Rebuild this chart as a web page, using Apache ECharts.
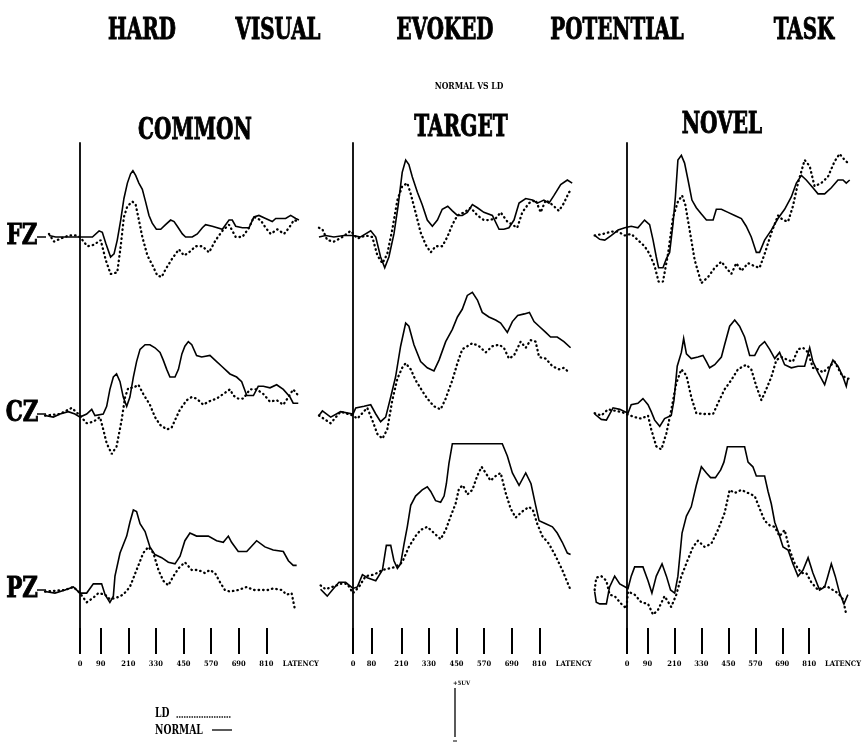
<!DOCTYPE html>
<html><head><meta charset="utf-8">
<script src="https://cdn.jsdelivr.net/npm/echarts@6/dist/echarts.min.js"></script>
<style>html,body{margin:0;padding:0;background:#fff}#c{width:864px;height:745px}</style>
</head><body><div id="c"></div>
<script>
// ---------- categories & labels ----------
const titleWords = ['HARD', 'VISUAL', 'EVOKED', 'POTENTIAL', 'TASK'];
const subtitle = 'NORMAL VS LD';
const columns = ['COMMON', 'TARGET', 'NOVEL'];
const rows = ['FZ', 'CZ', 'PZ'];
const groups = ['NORMAL', 'LD'];
const ticksCommon = [0, 90, 210, 330, 450, 570, 690, 810];
const ticksTarget = [0, 80, 210, 330, 450, 570, 690, 810];
const ticksNovel = [0, 90, 210, 330, 450, 570, 690, 810];
const axisName = 'LATENCY';
const scaleLabel = '+5UV';

// ---------- data: [latency ms, amplitude (plot units, positive up)] ----------
const commonFzNormal = [[-135,0.1],[-106,0],[-48,0],[0,0],[54,0],[83,0.4],[97,0.3],[112,-0.4],[133,-1.3],[148,-1.1],[162,-0.2],[177,1.1],[191,2.5],[206,3.5],[220,4.1],[230,4.3],[242,4.0],[256,3.5],[271,3.1],[285,2.3],[300,1.4],[314,0.9],[332,0.5],[351,0.5],[372,0.8],[394,1.1],[409,1.0],[423,0.7],[445,0.2],[459,0],[488,0],[510,0.2],[532,0.6],[546,0.8],[575,0.7],[619,0.5],[648,1.1],[662,1.1],[677,0.7],[706,0.6],[735,0.6],[756,1.3],[778,1.4],[807,1.2],[836,1.0],[851,1.2],[894,1.2],[916,1.4],[938,1.2],[952,1.1]];
const commonFzLD = [[-135,0.2],[-113,-0.3],[-84,-0.1],[-48,0.1],[-19,0.1],[0,0],[32,-0.6],[61,-0.5],[90,-0.2],[112,-1.5],[133,-2.4],[162,-2.3],[177,-0.6],[191,1.3],[206,2.0],[228,2.3],[242,2.1],[256,1.1],[271,0],[293,-1.2],[314,-1.8],[336,-2.5],[355,-2.6],[372,-2.1],[401,-1.4],[430,-0.8],[452,-1.2],[474,-1.0],[503,-0.6],[532,-0.6],[561,-1.0],[590,-0.2],[619,0.4],[648,0.8],[677,0],[706,0],[735,0.6],[756,1.3],[785,1.1],[807,0.6],[829,0.2],[858,0.5],[887,0.2],[909,0.6],[930,1.1],[952,1.0]];
const commonCzNormal = [[-152,-0.1],[-116,-0.2],[-87,0],[-51,0.15],[-22,0],[0,-0.2],[29,0],[51,0.3],[65,-0.1],[101,0],[116,0.5],[130,1.6],[145,2.4],[159,2.6],[174,2.1],[188,1.1],[203,0.5],[217,1.1],[232,2.4],[246,3.4],[261,4.2],[283,4.5],[304,4.5],[326,4.3],[348,4.0],[362,3.5],[377,2.9],[391,2.4],[413,2.4],[428,2.9],[443,3.9],[456,4.4],[471,4.7],[486,4.5],[507,3.8],[529,3.7],[565,3.8],[587,3.5],[616,3.1],[652,2.6],[681,2.4],[703,2.1],[725,1.2],[754,1.2],[775,1.8],[797,1.8],[826,1.7],[855,1.9],[884,1.6],[913,1.1],[927,0.7],[949,0.7]];
const commonCzLD = [[-152,-0.1],[-87,0],[-36,0.4],[0,-0.1],[29,-0.6],[58,-0.5],[87,-0.2],[101,-1.0],[116,-1.9],[138,-2.6],[159,-2.1],[181,-0.4],[196,1.1],[210,1.7],[232,1.7],[254,1.9],[275,1.3],[304,0.6],[326,-0.2],[348,-0.7],[377,-1.0],[398,-0.9],[413,-0.4],[435,0.3],[464,0.9],[486,1.1],[507,1.0],[536,0.6],[558,0.8],[594,1.0],[623,1.3],[652,1.6],[667,1.2],[688,1.0],[710,1.0],[739,1.6],[768,1.6],[797,1.3],[826,0.8],[855,0.9],[884,0.6],[906,1.1],[927,1.6],[949,1.2]];
const commonPzNormal = [[-152,-0.1],[-109,-0.2],[-65,0],[-29,0.2],[0,-0.2],[29,-0.2],[58,0.4],[94,0.4],[109,-0.3],[130,-0.8],[145,-0.4],[152,0.9],[174,2.4],[203,3.5],[217,4.4],[232,5.2],[246,5.1],[261,4.3],[283,3.8],[304,2.8],[326,2.3],[355,2.1],[384,1.8],[413,1.7],[435,2.2],[456,3.2],[478,3.7],[507,3.5],[558,3.5],[594,3.2],[623,3.1],[645,3.5],[659,3.1],[688,2.5],[725,2.5],[768,3.2],[804,2.8],[840,2.6],[884,2.5],[906,1.9],[927,1.6],[942,1.6]];
const commonPzLD = [[-152,-0.1],[-65,0],[-29,0.2],[0,-0.2],[29,-0.8],[58,-0.5],[80,-0.2],[109,-0.3],[130,-0.6],[159,-0.5],[188,-0.3],[217,0.2],[246,1.3],[275,2.4],[297,2.8],[319,2.4],[341,1.3],[362,0.6],[384,0.3],[406,0.9],[428,1.4],[456,1.8],[486,1.3],[514,1.3],[543,1.1],[565,1.3],[587,1.1],[609,0.5],[630,0],[652,-0.1],[688,0],[725,0.2],[754,0],[782,0],[819,0],[840,0.1],[877,0],[898,-0.3],[920,-0.2],[935,-1.3]];

const targetFzNormal = [[-148,0],[-119,0.1],[-83,0],[-39,0.1],[0,0.1],[33,0],[77,0.4],[99,0],[120,-1.3],[138,-2.0],[156,-1.3],[178,0.2],[196,2.0],[214,4.2],[229,5.0],[243,4.7],[258,3.9],[280,2.9],[301,2.1],[323,1.1],[345,0.7],[367,1.1],[388,1.8],[412,2.0],[432,1.7],[454,1.4],[475,1.4],[497,1.6],[519,2.1],[541,1.9],[569,1.6],[606,1.4],[635,0.5],[656,0.5],[678,0.6],[700,1.1],[722,2.2],[751,2.5],[780,2.4],[801,2.2],[830,2.4],[852,2.2],[874,2.7],[903,3.4],[932,3.7],[953,3.5]];
const targetFzLD = [[-148,0.6],[-133,0.5],[-112,-0.2],[-83,-0.3],[-46,0],[-10,0.4],[19,-0.1],[55,0.1],[84,0],[106,-1.2],[128,-1.7],[149,-1.1],[171,0.5],[193,2.4],[214,3.3],[236,3.5],[251,2.8],[272,1.6],[294,0.3],[316,-0.5],[338,-1.0],[359,-0.6],[388,-0.6],[410,0],[432,0.8],[454,1.4],[483,1.6],[512,1.9],[541,1.4],[569,1.1],[591,1.1],[620,1.2],[642,1.6],[671,1.0],[693,0.8],[714,0.6],[736,1.6],[765,2.2],[794,2.4],[816,1.6],[838,2.4],[866,2.1],[895,1.7],[917,2.2],[939,2.9],[953,3.1]];
const targetCzNormal = [[-148,-0.1],[-133,0.2],[-97,-0.2],[-54,0.15],[0,0],[12,0.4],[48,0.5],[77,0.6],[99,0],[120,-0.5],[142,-0.2],[164,1.1],[185,2.4],[207,4.4],[229,5.9],[243,5.7],[265,4.5],[294,3.4],[323,3.0],[352,2.8],[374,3.5],[403,4.7],[432,5.5],[454,6.3],[475,6.8],[497,7.7],[519,7.9],[541,7.4],[562,6.6],[591,6.3],[620,6.1],[642,5.9],[671,5.3],[693,6.0],[716,6.4],[745,6.5],[767,6.6],[787,6.0],[809,5.7],[838,5.3],[859,5.0],[888,5.0],[917,4.7],[946,4.3]];
const targetCzLD = [[-148,-0.1],[-97,-0.6],[-54,0.15],[0,-0.1],[19,-0.3],[62,0.4],[84,-0.4],[106,-1.3],[128,-1.6],[149,-1.0],[171,0.9],[193,2.3],[214,3.0],[229,3.3],[251,2.9],[272,2.2],[301,1.5],[323,1.0],[352,0.5],[381,0.3],[403,1.0],[432,2.2],[454,3.3],[475,4.2],[497,4.4],[519,4.6],[548,4.4],[577,4.0],[606,4.4],[635,4.5],[656,4.3],[678,3.6],[700,3.8],[729,4.7],[751,4.3],[772,4.8],[794,4.7],[809,3.7],[838,3.6],[867,3.1],[896,2.9],[917,3.0],[939,2.7]];
const targetPzNormal = [[-141,0.05],[-112,-0.4],[-90,0],[-61,0.5],[-32,0.5],[0,0.1],[19,0.2],[41,1.0],[62,0.8],[99,0.6],[128,1.3],[145,2.9],[164,2.9],[178,1.9],[193,1.4],[207,1.7],[222,3.0],[236,4.1],[251,5.5],[272,6.1],[301,6.5],[323,6.7],[338,6.4],[359,5.8],[381,5.7],[396,6.1],[406,6.9],[417,8.2],[432,9.5],[504,9.5],[649,9.5],[671,8.7],[693,7.6],[722,6.8],[751,7.6],[774,6.9],[794,5.5],[809,4.5],[838,4.3],[867,4.1],[888,3.7],[910,3.1],[932,2.4],[946,2.3]];
const targetPzLD = [[-141,0.3],[-119,0.05],[-90,0.2],[-54,0.4],[-25,0.4],[0,-0.2],[26,0.2],[55,0.9],[91,1.0],[128,1.3],[157,1.4],[185,1.5],[214,1.8],[243,2.8],[272,3.5],[294,3.9],[323,4.1],[352,3.7],[381,3.3],[403,3.9],[425,4.8],[446,5.6],[461,6.6],[478,6.8],[497,6.2],[519,6.5],[540,7.4],[559,8.0],[577,7.6],[598,7.1],[620,7.4],[642,7.6],[664,6.3],[685,5.3],[707,4.7],[736,5.1],[765,5.4],[782,5.2],[801,4.3],[823,3.5],[852,3.0],[881,2.2],[910,1.3],[932,0.5],[946,0]];

const novelFzNormal = [[-145,0.1],[-123,-0.15],[-101,-0.2],[-72,0.1],[-43,0.45],[-14,0.6],[14,0.7],[43,0.6],[72,1.1],[94,0.8],[109,-0.2],[123,-1.3],[133,-2.0],[152,-2.0],[167,-1.4],[181,-1.0],[196,0.9],[206,2.6],[217,5.0],[232,5.3],[246,4.8],[261,3.7],[278,2.4],[297,1.9],[319,1.5],[341,1.1],[370,1.1],[384,1.8],[406,1.8],[435,1.6],[464,1.4],[493,1.2],[514,0.7],[536,0],[558,-1.0],[572,-1.0],[594,-0.2],[623,0.45],[652,1.2],[681,1.8],[710,2.6],[732,3.5],[754,4.0],[775,3.7],[804,3.2],[826,2.8],[855,2.8],[884,3.2],[913,3.7],[935,3.7],[949,3.5],[964,3.7]];
const novelFzLD = [[-145,0.1],[-109,0.2],[-72,0.35],[-43,0.35],[-14,0.1],[14,0.2],[43,-0.2],[72,-0.6],[94,-1.1],[116,-1.9],[133,-2.9],[152,-2.9],[174,-1.1],[196,1.3],[217,2.3],[235,2.7],[249,2.1],[268,0.45],[290,-1.5],[319,-3.0],[348,-2.6],[377,-2.0],[406,-1.6],[427,-2.0],[449,-2.4],[471,-1.7],[493,-2.2],[522,-1.7],[551,-1.9],[572,-2.0],[594,-1.1],[623,0.25],[652,1.4],[674,1.1],[696,1.0],[717,2.0],[739,3.5],[768,5.0],[790,4.6],[811,3.3],[840,3.5],[869,3.9],[898,4.9],[920,5.4],[942,5.0],[964,4.7]];
const novelCzNormal = [[-145,0],[-116,-0.35],[-94,-0.4],[-65,0.4],[-36,0.3],[0,0.05],[14,0.6],[43,0.7],[65,1.0],[87,0.6],[101,0.15],[116,-0.4],[138,-0.8],[159,-0.3],[188,-0.1],[200,0.9],[214,3.1],[232,4.0],[242,4.9],[254,3.9],[275,3.6],[304,3.7],[326,3.8],[341,3.4],[355,3.0],[377,3.2],[406,3.7],[420,4.5],[442,5.7],[464,6.1],[485,5.7],[507,5.0],[529,3.8],[551,3.8],[572,4.4],[594,4.7],[616,4.2],[638,3.6],[659,4.0],[681,3.2],[710,3.0],[739,3.1],[768,3.1],[790,4.3],[804,3.4],[826,2.7],[855,1.9],[877,3.0],[891,3.5],[913,3.1],[935,2.4],[949,1.8],[956,2.3]];
const novelCzLD = [[-145,0.05],[-116,-0.1],[-87,0.3],[-51,0.2],[-22,0.1],[0,-0.05],[29,-0.2],[58,-0.3],[87,-0.1],[101,-1.0],[123,-2.1],[145,-2.3],[167,-1.25],[188,0.25],[210,2.0],[232,2.9],[254,2.5],[275,1.1],[297,0.05],[333,0],[370,0],[391,0.7],[420,1.6],[449,2.2],[478,2.9],[514,3.2],[536,2.9],[558,1.8],[580,0.9],[601,1.6],[623,2.4],[645,3.5],[667,3.7],[696,3.5],[717,3.4],[739,4.2],[761,4.3],[783,4.0],[804,3.0],[826,2.9],[848,2.7],[877,3.1],[898,3.4],[927,2.6],[949,2.3],[964,2.3]];
const novelPzNormal = [[-145,-0.1],[-138,-0.8],[-123,-0.9],[-94,-0.9],[-80,0.2],[-58,0.9],[-36,0.4],[0,0.1],[14,0.9],[29,1.5],[65,1.5],[87,0.6],[104,-0.2],[123,0.9],[148,1.7],[167,0.9],[185,0],[203,-0.2],[217,0.9],[235,3.7],[254,4.8],[275,5.4],[297,6.8],[319,8.0],[341,7.6],[359,7.3],[380,7.3],[403,7.8],[417,8.3],[432,9.3],[507,9.3],[522,8.3],[543,8.0],[558,7.4],[594,7.4],[609,6.4],[623,5.6],[638,4.4],[655,3.7],[674,2.8],[696,2.6],[717,1.7],[739,0.9],[761,1.3],[783,2.1],[804,1.1],[833,0],[855,0.2],[867,0.8],[884,1.7],[901,0.9],[920,-0.2],[939,-0.9],[956,-0.3]];
const novelPzLD = [[-145,0],[-138,0.8],[-116,0.9],[-94,0.6],[-80,-0.3],[-58,-0.4],[-29,-0.9],[-7,-1.2],[0,-0.1],[29,-0.3],[58,-0.8],[87,-0.9],[109,-1.6],[130,-1.3],[159,-0.4],[188,-1.1],[210,-0.3],[232,0.9],[261,2.0],[283,2.8],[304,3.2],[333,2.8],[362,3.0],[391,3.9],[420,5.0],[442,6.5],[464,6.3],[493,6.5],[522,6.3],[551,6.1],[572,5.3],[594,4.5],[616,4.2],[638,4.1],[659,3.5],[681,3.9],[703,2.6],[725,1.7],[754,1.1],[775,1.1],[797,0.5],[826,0],[848,0.2],[869,0.2],[891,0],[913,-0.2],[935,-0.6],[949,-1.6]];

// ---------- layout (positions / styles) ----------
const PX_MS = 0.23, PX_UNIT = 15.4;
const T_MIN = -160, T_MAX = 1000, V_MIN = -10, V_MAX = 10;
const colZero = [80, 353, 628];
const rowBase = [237, 414, 590];
const axisTop = 143, axisBottom = 628;
const LATENCY_POS = 960;
const FONT = "'DejaVu Serif Condensed', 'DejaVu Serif', serif";

const panelData = [
  [[commonFzNormal, commonFzLD], [commonCzNormal, commonCzLD], [commonPzNormal, commonPzLD]],
  [[targetFzNormal, targetFzLD], [targetCzNormal, targetCzLD], [targetPzNormal, targetPzLD]],
  [[novelFzNormal, novelFzLD], [novelCzNormal, novelCzLD], [novelPzNormal, novelPzLD]]
];
const colTicks = [ticksCommon, ticksTarget, ticksNovel];

const grid = [], xAxis = [], yAxis = [], series = [];
const gLeft = c => colZero[c] + T_MIN * PX_MS;
const gWidth = (T_MAX - T_MIN) * PX_MS;

for (let c = 0; c < 3; c++) {
  for (let r = 0; r < 3; r++) {
    const idx = grid.length;
    grid.push({ left: gLeft(c), width: gWidth, top: rowBase[r] - V_MAX * PX_UNIT, height: (V_MAX - V_MIN) * PX_UNIT });
    xAxis.push({ gridIndex: idx, type: 'value', min: T_MIN, max: T_MAX, show: false });
    yAxis.push({ gridIndex: idx, type: 'value', min: V_MIN, max: V_MAX, show: false });
    const [normal, ld] = panelData[c][r];
    series.push({
      name: groups[0], type: 'line', xAxisIndex: idx, yAxisIndex: idx, data: normal,
      symbol: 'none', silent: true, z: 3,
      lineStyle: { color: '#000', width: 1.6, type: 'solid', join: 'miter' }
    });
    series.push({
      name: groups[1], type: 'line', xAxisIndex: idx, yAxisIndex: idx, data: ld,
      symbol: 'none', silent: true, z: 2,
      lineStyle: { color: '#000', width: 2.3, type: [0.5, 4], cap: 'round' }
    });
  }
}
// axis grids: one per column (vertical zero line + latency ticks)
for (let c = 0; c < 3; c++) {
  const idx = grid.length;
  grid.push({ left: gLeft(c), width: gWidth, top: axisTop, height: axisBottom - axisTop });
  const ticks = colTicks[c];
  xAxis.push({
    gridIndex: idx, type: 'value', min: T_MIN, max: T_MAX, position: 'bottom',
    axisLine: { show: false, onZero: false },
    splitLine: { show: false },
    axisTick: { show: true, customValues: ticks, length: 26, lineStyle: { color: '#000', width: 2 } },
    axisLabel: {
      show: true, customValues: ticks.concat([LATENCY_POS]), margin: 32,
      formatter: v => (v === LATENCY_POS ? axisName : String(v)),
      color: '#000', fontSize: 7.5, fontWeight: 'bold', fontFamily: FONT
    }
  });
  yAxis.push({
    gridIndex: idx, type: 'value', min: 0, max: 1,
    axisLine: { show: true, onZero: true, lineStyle: { color: '#000', width: 1.8 } },
    axisTick: { show: false }, axisLabel: { show: false }, splitLine: { show: false }
  });
}

// ---------- text & annotations ----------
const graphic = [];
const bigText = (text, x, y, size, sx) => ({
  type: 'text', x, y, scaleX: sx,
  style: { text, fill: '#000', stroke: '#000', lineWidth: 0.9, font: `bold ${size}px ${FONT}`, align: 'center', verticalAlign: 'middle' }
});
const titleX = [142, 278, 445, 617, 804];
titleWords.forEach((w, i) => graphic.push(bigText(w, titleX[i], 31, 29, 0.76)));
graphic.push({ type: 'text', x: 469, y: 86, scaleX: 0.85,
  style: { text: subtitle, fill: '#000', font: `bold 10px ${FONT}`, align: 'center', verticalAlign: 'middle' } });
const colTitleX = [195, 461, 722], colTitleY = [131, 128, 125];
columns.forEach((w, i) => graphic.push(bigText(w, colTitleX[i], colTitleY[i], 29, 0.77)));
rows.forEach((w, i) => {
  graphic.push(bigText(w, 22, rowBase[i], 28, 0.85));
  graphic.push({ type: 'line', shape: { x1: 37, y1: rowBase[i], x2: 46, y2: rowBase[i] },
    style: { stroke: '#000', lineWidth: 1.5 } });
});
// legend
graphic.push({ type: 'text', x: 155, y: 714, scaleX: 0.85,
  style: { text: groups[1], fill: '#000', font: `bold 12px ${FONT}`, align: 'left', verticalAlign: 'middle' } });
graphic.push({ type: 'line', shape: { x1: 177, y1: 717, x2: 232, y2: 717 },
  style: { stroke: '#000', lineWidth: 1.3, lineDash: [0.5, 2], lineCap: 'round' } });
graphic.push({ type: 'text', x: 155, y: 731, scaleX: 0.85,
  style: { text: groups[0], fill: '#000', font: `bold 12px ${FONT}`, align: 'left', verticalAlign: 'middle' } });
graphic.push({ type: 'line', shape: { x1: 212, y1: 730, x2: 232, y2: 730 },
  style: { stroke: '#000', lineWidth: 1.3 } });
// scale bar
const barX = 455, barTop = 688, barBottom = 737;
graphic.push({ type: 'line', shape: { x1: barX, y1: barTop, x2: barX, y2: barBottom },
  style: { stroke: '#000', lineWidth: 1.3 } });
graphic.push({ type: 'text', x: barX - 2, y: barTop - 5,
  style: { text: scaleLabel, fill: '#000', font: `bold 6px ${FONT}`, align: 'left', verticalAlign: 'middle' } });
graphic.push({ type: 'line', shape: { x1: barX - 2, y1: barBottom + 4, x2: barX + 2, y2: barBottom + 4 },
  style: { stroke: '#000', lineWidth: 1 } });

const chart = echarts.init(document.getElementById('c'), null, { renderer: 'canvas' });
chart.setOption({
  animation: false,
  backgroundColor: '#fff',
  grid, xAxis, yAxis, series, graphic
});
</script>
</body></html>
